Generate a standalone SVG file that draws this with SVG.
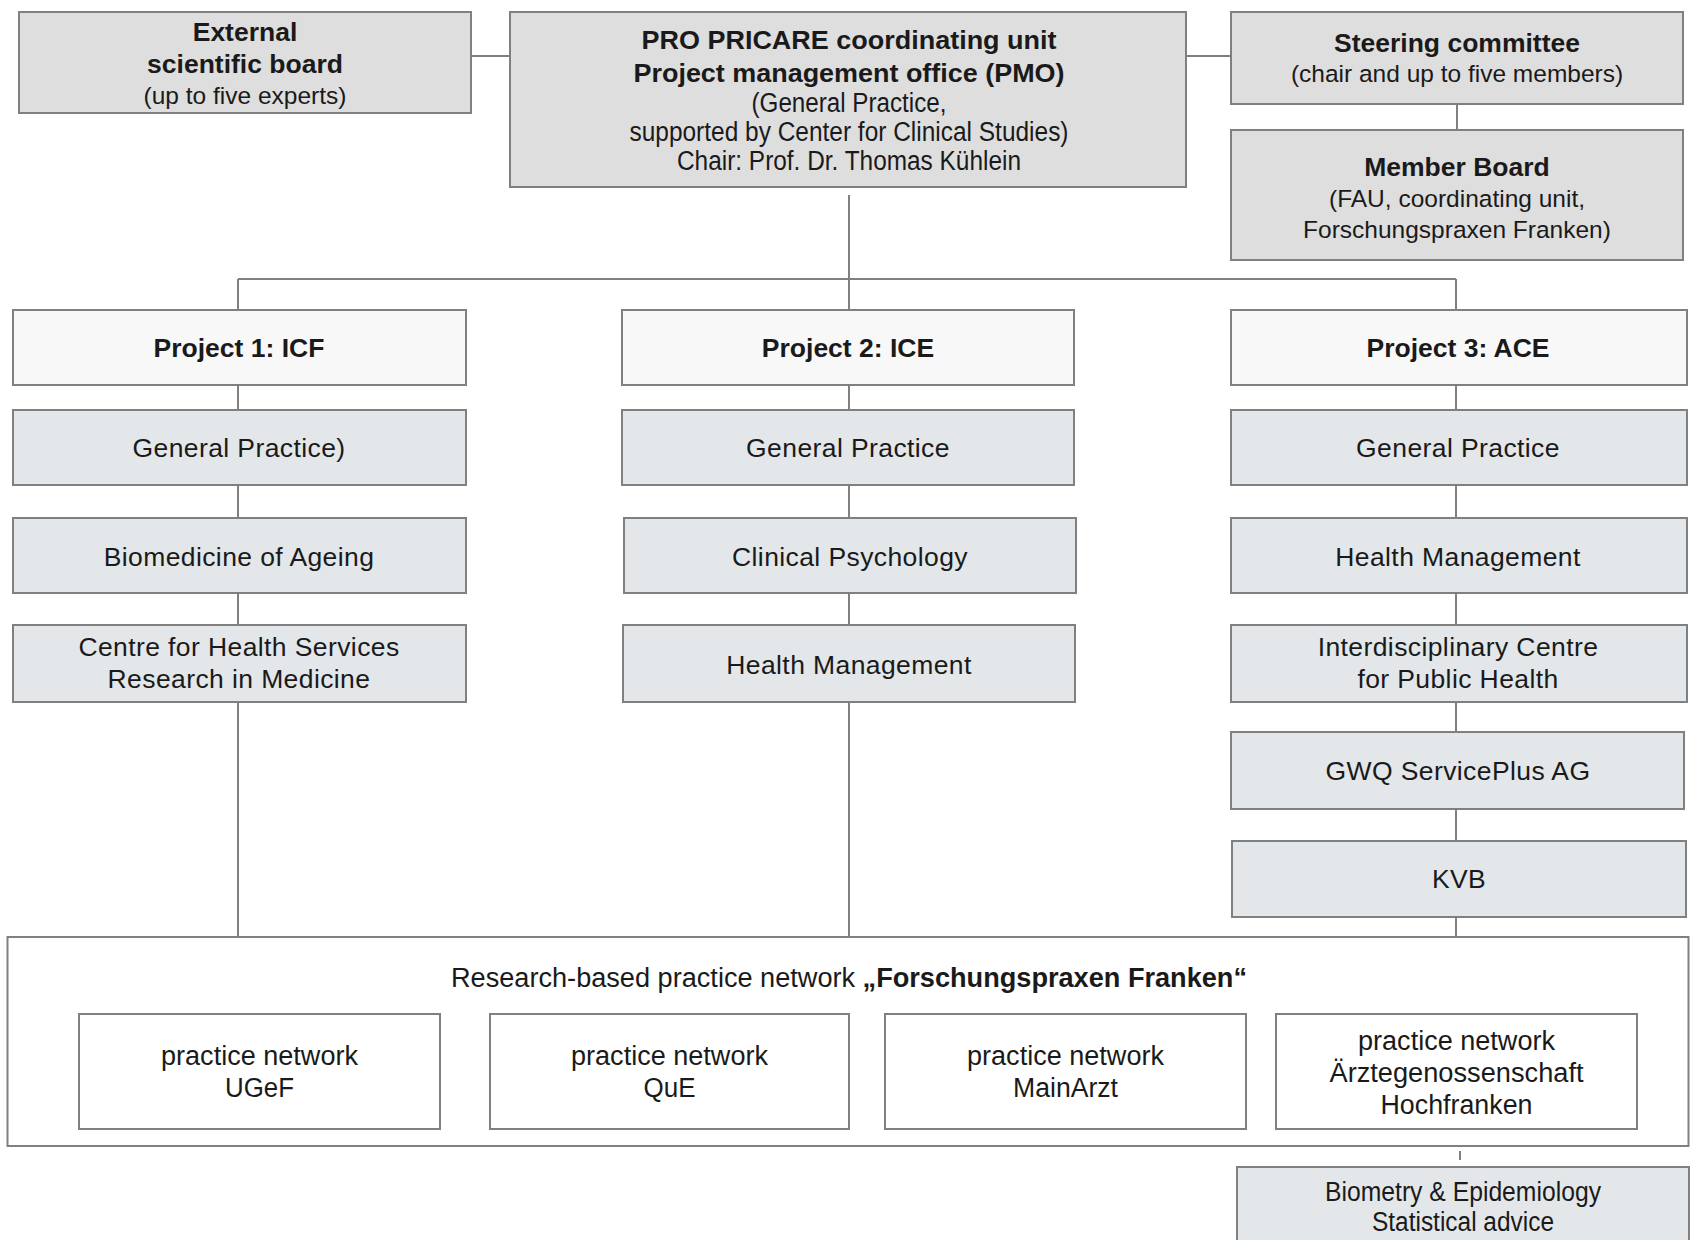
<svg xmlns="http://www.w3.org/2000/svg" width="1691" height="1240" viewBox="0 0 1691 1240">
<style>
rect{stroke:#808080;stroke-width:2}
.top{fill:#dedede}
.proj{fill:#f8f8f8}
.dept{fill:#e3e7ea}
.wh{fill:#ffffff}
text{font-family:"Liberation Sans",Arial,sans-serif;fill:#1a1a1a;text-anchor:middle}
.b{font-weight:bold}
.t{font-size:24.5px}
.tb{font-size:26.5px;font-weight:bold}
.d{font-size:26.5px;letter-spacing:0.4px}
.n{font-size:27px}
.con path{stroke:#808080;stroke-width:2;fill:none}
</style>
<rect x="0" y="0" width="1691" height="1240" fill="#ffffff" style="stroke:none"/>
<g class="con" id="connectors">
<path d="M471 56H510"/>
<path d="M1186 56H1231"/>
<path d="M1457 104V130"/>
<path d="M849 195V279"/>
<path d="M238 279H1456"/>
<path d="M238 279V310M238 385V410M238 485V518M238 593V625M238 702V937"/>
<path d="M849 279V310M849 385V410M849 485V518M849 593V625M849 702V937"/>
<path d="M1456 279V310M1456 385V410M1456 485V518M1456 593V625M1456 702V732M1456 809V841M1456 917V937"/>
<path d="M1460 1151V1160"/>
</g>
<g id="ext">
<rect class="top" x="19" y="12" width="452" height="101"/>
<text class="tb" x="245" y="41">External</text>
<text class="tb" x="245" y="73">scientific board</text>
<text class="t" x="245" y="104">(up to five experts)</text>
</g>
<g id="pmo">
<rect class="top" x="510" y="12" width="676" height="175"/>
<text class="tb" x="849" y="49" textLength="415" lengthAdjust="spacingAndGlyphs">PRO PRICARE coordinating unit</text>
<text class="tb" x="849" y="82" textLength="431" lengthAdjust="spacingAndGlyphs">Project management office (PMO)</text>
<text class="n" x="849" y="112" textLength="195" lengthAdjust="spacingAndGlyphs">(General Practice,</text>
<text class="n" x="849" y="141" textLength="439" lengthAdjust="spacingAndGlyphs">supported by Center for Clinical Studies)</text>
<text class="n" x="849" y="170" textLength="344" lengthAdjust="spacingAndGlyphs">Chair:  Prof. Dr. Thomas Kühlein</text>
</g>
<g id="steering">
<rect class="top" x="1231" y="12" width="452" height="92"/>
<text class="tb" x="1457" y="52">Steering committee</text>
<text class="t" x="1457" y="82">(chair and up to five members)</text>
</g>
<g id="member">
<rect class="top" x="1231" y="130" width="452" height="130"/>
<text class="tb" x="1457" y="176">Member Board</text>
<text class="t" x="1457" y="207">(FAU, coordinating unit,</text>
<text class="t" x="1457" y="238">Forschungspraxen Franken)</text>
</g>
<g id="p1">
<rect class="proj" x="13" y="310" width="453" height="75"/>
<text class="tb" x="239" y="357">Project 1: ICF</text>
</g>
<g id="p1-gp">
<rect class="dept" x="13" y="410" width="453" height="75"/>
<text class="d" x="239" y="457">General Practice)</text>
</g>
<g id="p1-bio">
<rect class="dept" x="13" y="518" width="453" height="75"/>
<text class="d" x="239" y="566">Biomedicine of Ageing</text>
</g>
<g id="p1-chs">
<rect class="dept" x="13" y="625" width="453" height="77"/>
<text class="d" x="239" y="656">Centre for Health Services</text>
<text class="d" x="239" y="688">Research in Medicine</text>
</g>
<g id="p2">
<rect class="proj" x="622" y="310" width="452" height="75"/>
<text class="tb" x="848" y="357">Project 2: ICE</text>
</g>
<g id="p2-gp">
<rect class="dept" x="622" y="410" width="452" height="75"/>
<text class="d" x="848" y="457">General Practice</text>
</g>
<g id="p2-cp">
<rect class="dept" x="624" y="518" width="452" height="75"/>
<text class="d" x="850" y="566">Clinical Psychology</text>
</g>
<g id="p2-hm">
<rect class="dept" x="623" y="625" width="452" height="77"/>
<text class="d" x="849" y="674">Health Management</text>
</g>
<g id="p3">
<rect class="proj" x="1231" y="310" width="456" height="75"/>
<text class="tb" x="1458" y="357">Project 3: ACE</text>
</g>
<g id="p3-gp">
<rect class="dept" x="1231" y="410" width="456" height="75"/>
<text class="d" x="1458" y="457">General Practice</text>
</g>
<g id="p3-hm">
<rect class="dept" x="1231" y="518" width="456" height="75"/>
<text class="d" x="1458" y="566">Health Management</text>
</g>
<g id="p3-icph">
<rect class="dept" x="1231" y="625" width="456" height="77"/>
<text class="d" x="1458" y="656">Interdisciplinary Centre</text>
<text class="d" x="1458" y="688">for Public Health</text>
</g>
<g id="p3-gwq">
<rect class="dept" x="1231" y="732" width="453" height="77"/>
<text class="d" x="1458" y="780">GWQ ServicePlus AG</text>
</g>
<g id="p3-kvb">
<rect class="dept" x="1232" y="841" width="454" height="76"/>
<text class="d" x="1459" y="888">KVB</text>
</g>
<g id="network">
<rect class="wh" x="7.5" y="937" width="1681" height="209"/>
<text class="n" x="849" y="987" textLength="796" lengthAdjust="spacingAndGlyphs">Research-based practice network <tspan class="b">„Forschungspraxen Franken“</tspan></text>
</g>
<g id="ugef">
<rect class="wh" x="79" y="1014" width="361" height="115"/>
<text class="n" x="259.5" y="1065" textLength="197" lengthAdjust="spacingAndGlyphs">practice network</text>
<text class="n" x="259.5" y="1097" textLength="69" lengthAdjust="spacingAndGlyphs">UGeF</text>
</g>
<g id="que">
<rect class="wh" x="490" y="1014" width="359" height="115"/>
<text class="n" x="669.5" y="1065" textLength="197" lengthAdjust="spacingAndGlyphs">practice network</text>
<text class="n" x="669.5" y="1097" textLength="52" lengthAdjust="spacingAndGlyphs">QuE</text>
</g>
<g id="mainarzt">
<rect class="wh" x="885" y="1014" width="361" height="115"/>
<text class="n" x="1065.5" y="1065" textLength="197" lengthAdjust="spacingAndGlyphs">practice network</text>
<text class="n" x="1065.5" y="1097" textLength="105" lengthAdjust="spacingAndGlyphs">MainArzt</text>
</g>
<g id="hochfranken">
<rect class="wh" x="1276" y="1014" width="361" height="115"/>
<text class="n" x="1456.5" y="1050" textLength="197" lengthAdjust="spacingAndGlyphs">practice network</text>
<text class="n" x="1456.5" y="1082" textLength="254" lengthAdjust="spacingAndGlyphs">Ärztegenossenschaft</text>
<text class="n" x="1456.5" y="1114" textLength="152" lengthAdjust="spacingAndGlyphs">Hochfranken</text>
</g>
<g id="biometry">
<rect class="dept" x="1237" y="1167" width="452" height="90"/>
<text class="n" x="1463" y="1201" textLength="276" lengthAdjust="spacingAndGlyphs">Biometry &amp; Epidemiology</text>
<text class="n" x="1463" y="1231" textLength="182" lengthAdjust="spacingAndGlyphs">Statistical advice</text>
</g>
</svg>
